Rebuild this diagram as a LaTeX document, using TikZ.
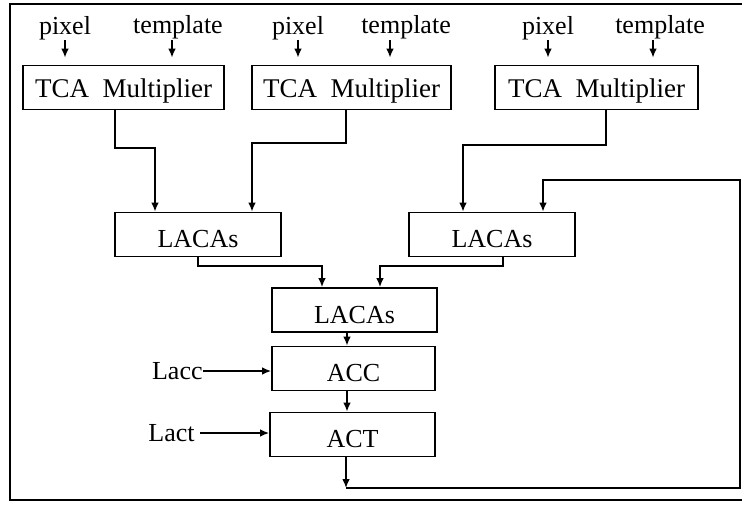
\documentclass[tikz,border=0pt]{standalone}
\usepackage{fontspec}
\setmainfont{Liberation Serif}
\usetikzlibrary{arrows.meta}
\begin{document}
\begin{tikzpicture}[x=0.5pt,y=-0.5pt,
  every node/.style={font=\fontsize{13}{15}\selectfont, inner sep=0pt},
  blk/.style={draw, line width=0.9pt, text height=13pt, text depth=0pt,
              minimum height=22pt},
  wire/.style={line width=0.75pt},
  arr/.style={wire, -{Latex[length=4.5pt,width=3.8pt]}},
  frame/.style={line width=1.1pt}]
\useasboundingbox (0,0) rectangle (742,509);
% outer frame (open on the right, closed by the feedback line)
\draw[frame] (742,4) -- (10,4) -- (10,500) -- (742,500);

% multiplier stage
\node[blk, minimum width=100.5pt, text height=10pt, font=\fontsize{13.5}{15}\selectfont] (tca1) at (123.5,87.5) {TCA\hspace{0.5em}Multiplier};
\node[blk, minimum width=99.5pt, text height=10pt, font=\fontsize{13.5}{15}\selectfont] (tca2) at (351.5,87.5) {TCA\hspace{0.5em}Multiplier};
\node[blk, minimum width=101.5pt, text height=10pt, font=\fontsize{13.5}{15}\selectfont] (tca3) at (596.5,87.5) {TCA\hspace{0.5em}Multiplier};

% inputs
\node[anchor=base] (px1) at (65,34) {pixel};
\node[anchor=base] (tp1) at (178,33) {template};
\node[anchor=base] (px2) at (298,34) {pixel};
\node[anchor=base] (tp2) at (406,33) {template};
\node[anchor=base] (px3) at (548,34) {pixel};
\node[anchor=base] (tp3) at (660,33) {template};
\coordinate (t1) at (172,40);
\coordinate (t2) at (390,40);
\coordinate (t3) at (653,40);
\draw[arr, shorten >=3.5pt] (px1.south) -- (px1.south |- tca1.north);
\draw[arr, shorten >=3.5pt] (t1) -- (t1 |- tca1.north);
\draw[arr, shorten >=3.5pt] (px2.south) -- (px2.south |- tca2.north);
\draw[arr, shorten >=3.5pt] (t2) -- (t2 |- tca2.north);
\draw[arr, shorten >=3.5pt] (px3.south) -- (px3.south |- tca3.north);
\draw[arr, shorten >=3.5pt] (t3) -- (t3 |- tca3.north);

% accumulation stages
\node[blk, minimum width=83pt] (lac1) at (198,234.5) {LACAs};
\node[blk, minimum width=83pt] (lac2) at (492,234.5) {LACAs};
\node[blk, minimum width=82.5pt, minimum height=22pt] (lac3) at (354.5,310) {LACAs};
\node[blk, minimum width=81.5pt] (acc) at (353.5,368.5) {ACC};
\node[blk, minimum width=82.5pt] (act) at (352.5,434.5) {ACT};

% multipliers to first LACAs
\coordinate (m1) at (115,148);
\coordinate (m2) at (346,143);
\coordinate (m3) at (606,145);
\draw[arr] (m1 |- tca1.south) -- (m1) -- (155,148) -- (155,0 |- lac1.north);
\draw[arr] (m2 |- tca2.south) -- (m2) -- (252,143) -- (252,0 |- lac1.north);
\draw[arr] (m3 |- tca3.south) -- (m3) -- (463,145) -- (463,0 |- lac2.north);

% LACAs to LACAs
\coordinate (l1) at (198,266);
\coordinate (l2) at (503,266);
\draw[arr] (l1 |- lac1.south) -- (l1) -- (322,266) -- (322,0 |- lac3.north);
\draw[arr] (l2 |- lac2.south) -- (l2) -- (380,266) -- (380,0 |- lac3.north);

% vertical chain
\coordinate (v) at (347,0);
\draw[arr] (v |- lac3.south) -- (v |- acc.north);
\draw[arr] (v |- acc.south) -- (v |- act.north);

% control inputs
\node[anchor=east] (lacc) at (203,371) {Lacc};
\node[anchor=east] (lact) at (195,433) {Lact};
\draw[arr] (lacc.east) -- (lacc.east -| acc.west);
\draw[arr] ([xshift=2.5pt]lact.east) -- (lact.east -| act.west);

% feedback loop
\coordinate (fb) at (346,488);
\draw[arr] (fb |- act.south) -- (fb);
\draw[arr] (fb) -- (740,488) -- (740,180) -- (543,180) -- (543,0 |- lac2.north);
\end{tikzpicture}
\end{document}
